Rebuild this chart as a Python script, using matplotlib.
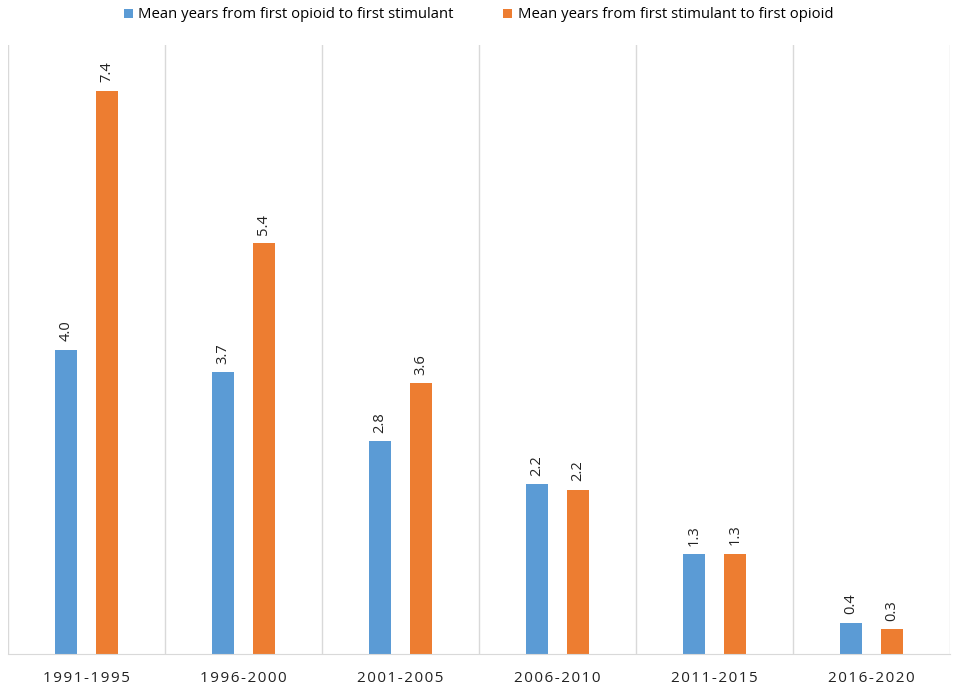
import matplotlib.pyplot as plt
import numpy as np

# Data
periods = ['1991-1995', '1996-2000', '2001-2005', '2006-2010', '2011-2015', '2016-2020']
opioid_to_stim = [4.0, 3.7, 2.8, 2.23, 1.31, 0.41]
stim_to_opioid = [7.4, 5.4, 3.56, 2.16, 1.32, 0.33]

blue = '#5B9BD5'
orange = '#ED7D31'

plt.rcParams['font.family'] = ['Open Sans', 'DejaVu Sans']

fig = plt.figure(figsize=(9.57, 6.87), dpi=100)
ax = fig.add_axes([8 / 957, 33 / 687, 942 / 957, 609 / 687])

x = np.arange(len(periods))
w = 0.14
b1 = ax.bar(x - 0.13, opioid_to_stim, w, color=blue,
            label='Mean years from first opioid to first stimulant')
b2 = ax.bar(x + 0.13, stim_to_opioid, w, color=orange,
            label='Mean years from first stimulant to first opioid')

for bars in (b1, b2):
    for rect in bars:
        h = rect.get_height()
        ax.annotate(f'{h:.1f}', (rect.get_x() + rect.get_width() / 2, h),
                    xytext=(0, 6), textcoords='offset points',
                    ha='center', va='bottom', rotation=90, fontsize=10.5, color='#222222')

ax.set_xlim(-0.5, len(periods) - 0.5)
ax.set_ylim(0, 8)
ax.set_yticks([])
ax.set_xticks(x)
# reference tick labels are letter-spaced
ax.set_xticklabels(['\u200a'.join(p) for p in periods], fontsize=11, color='#222222')
ax.tick_params(axis='x', length=0, pad=12)

# vertical separators between categories
for xv in np.arange(-0.5, len(periods), 1.0):
    ax.axvline(xv, color='#D9D9D9', linewidth=1, zorder=0)

for s in ['top', 'right', 'left']:
    ax.spines[s].set_visible(False)
ax.spines['bottom'].set_color('#D9D9D9')

fig.legend(handles=[b1, b2], loc='center', bbox_to_anchor=(0.5, 1 - 15 / 687),
           ncol=2, frameon=False, fontsize=10.7, handlelength=0.6, handleheight=0.6,
           handletextpad=0.4, columnspacing=3.3)

fig.savefig('out.png', dpi=100)
